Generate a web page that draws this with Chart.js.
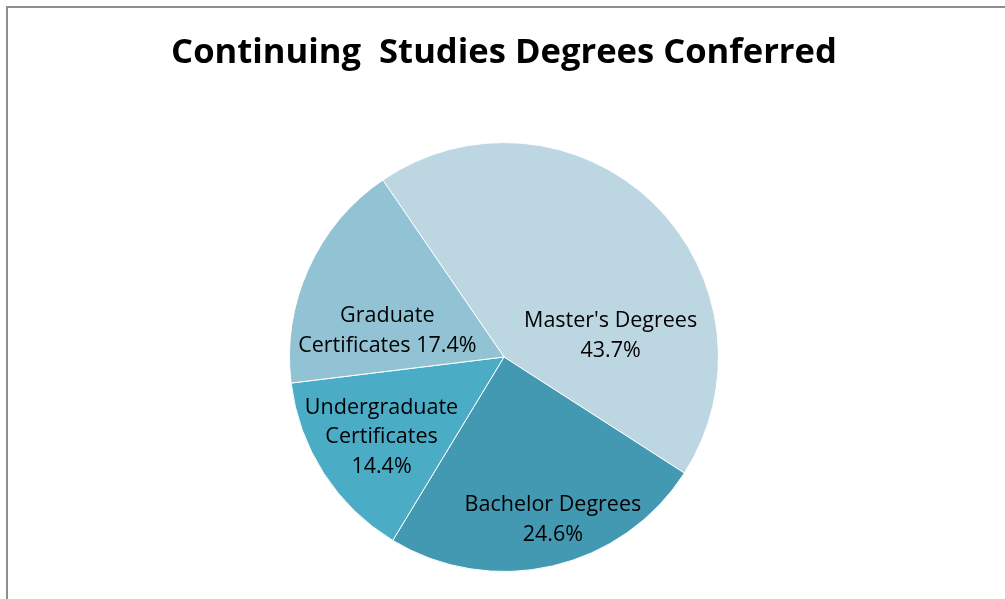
<!DOCTYPE html>
<html>
<head>
<meta charset="utf-8">
<script src="https://cdn.jsdelivr.net/npm/chart.js@4.4.0/dist/chart.umd.min.js"></script>
<style>
html,body{margin:0;padding:0;background:#fff;}
canvas{display:block;}
</style>
</head>
<body>
<canvas id="c" width="1005" height="599"></canvas>
<script>
// ---- data ----
const categories = ["Master's Degrees", "Bachelor Degrees", "Undergraduate Certificates", "Graduate Certificates"];
const shares = [43.7, 24.6, 14.4, 17.4];
const labelLines = [
  ["Master's Degrees", "{v}"],
  ["Bachelor Degrees", "{v}"],
  ["Undergraduate", "Certificates", "{v}"],
  ["Graduate", "Certificates {v}"]
];
const sliceColors = ["#BDD7E2", "#4399B1", "#4BACC6", "#92C3D4"];
const titleText = "Continuing  Studies Degrees Conferred";

// label placement (relative to pie centre, in radius units)
const labelOffsets = [[0.497, -0.100], [0.228, 0.760], [-0.571, 0.374], [-0.544, -0.123]];

const framePlugin = {
  id: 'frame',
  beforeDraw(chart) {
    const ctx = chart.ctx;
    ctx.save();
    ctx.fillStyle = '#ffffff';
    ctx.fillRect(0, 0, chart.width, chart.height);
    ctx.strokeStyle = '#8E8E8E';
    ctx.lineWidth = 2;
    ctx.strokeRect(7, 7, chart.width + 20, chart.height + 20);
    ctx.restore();
  }
};

const labelPlugin = {
  id: 'sliceLabels',
  afterDatasetsDraw(chart) {
    const ctx = chart.ctx;
    const meta = chart.getDatasetMeta(0);
    ctx.save();
    ctx.font = '21.5px "Open Sans"';
    ctx.fillStyle = '#000000';
    ctx.textAlign = 'center';
    ctx.textBaseline = 'middle';
    const lh = 29.7;
    meta.data.forEach((arc, i) => {
      const r = arc.outerRadius;
      const cx = arc.x + labelOffsets[i][0] * r;
      const cy = arc.y + labelOffsets[i][1] * r;
      const v = chart.data.datasets[0].data[i].toFixed(1) + '%';
      const lines = labelLines[i].map(s => s.replace('{v}', v));
      const y0 = cy - (lines.length - 1) * lh / 2;
      lines.forEach((ln, k) => ctx.fillText(ln, cx, y0 + k * lh));
    });
    ctx.restore();
  }
};

new Chart(document.getElementById('c'), {
  type: 'pie',
  data: {
    labels: categories,
    datasets: [{
      data: shares,
      backgroundColor: sliceColors,
      borderColor: '#ffffff',
      borderWidth: 1
    }]
  },
  options: {
    responsive: false,
    animation: false,
    devicePixelRatio: 1,
    rotation: -34.4,
    layout: { padding: { left: 3, right: 0, top: 0, bottom: 27 } },
    plugins: {
      legend: { display: false },
      tooltip: { enabled: false },
      title: {
        display: true,
        text: titleText,
        color: '#000000',
        font: { family: '"Open Sans"', size: 34.6, weight: 'bold', lineHeight: 1.2 },
        padding: { top: 32.3, bottom: 68.2 }
      }
    }
  },
  plugins: [framePlugin, labelPlugin]
});
</script>
</body>
</html>
